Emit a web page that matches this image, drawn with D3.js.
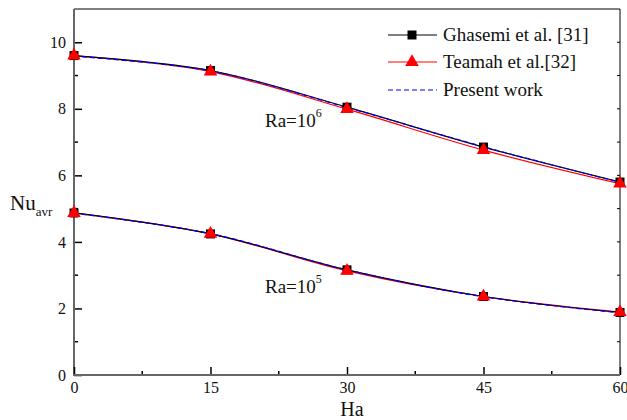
<!DOCTYPE html>
<html><head><meta charset="utf-8">
<script src="https://cdn.jsdelivr.net/npm/d3@7"></script>
<style>body{margin:0;background:#fff}svg{display:block}svg text{font-family:"Liberation Serif","Times New Roman",serif !important}</style>
</head><body><svg id="c" width="627" height="420"></svg>
<script>
const ha = [0, 15, 30, 45, 60];
const ghasemi6 = [9.60, 9.15, 8.05, 6.85, 5.80];
const teamah6 = [9.60, 9.12, 7.99, 6.76, 5.75];
const present6 = [9.58, 9.14, 8.04, 6.86, 5.79];
const ghasemi5 = [4.87, 4.24, 3.16, 2.36, 1.88];
const teamah5 = [4.87, 4.24, 3.13, 2.36, 1.89];
const present5 = [4.86, 4.25, 3.16, 2.35, 1.87];
const xTicks = [0, 15, 30, 45, 60];
const yTicks = [0, 2, 4, 6, 8, 10];
const legendLabels = ["Ghasemi et al. [31]", "Teamah et al.[32]", "Present work"];

const FONT = '"Liberation Serif","Times New Roman",serif';
const svg = d3.select("#c");
const L = 74, R = 620, T = 9, B = 375;
const x = d3.scaleLinear().domain([0, 60]).range([L, R]);
const y = d3.scaleLinear().domain([0, 11]).range([B, T]);

// frame top/right
svg.append("line").attr("x1", L).attr("x2", R).attr("y1", T).attr("y2", T).attr("stroke", "#000").attr("stroke-width", 1);
svg.append("line").attr("x1", R).attr("x2", R).attr("y1", T).attr("y2", B).attr("stroke", "#000").attr("stroke-width", 1);
d3.range(1, 11).forEach(v => {
  svg.append("line").attr("x1", R).attr("x2", R - 3).attr("y1", y(v)).attr("y2", y(v)).attr("stroke", "#000");
});

// left axis
const gy = svg.append("g").attr("transform", `translate(${L},0)`)
  .call(d3.axisLeft(y).tickValues(yTicks).tickSize(-8).tickPadding(8).tickFormat(d3.format("d")));
gy.attr("font-family", null);
gy.select(".domain").remove();
gy.selectAll(".tick line").attr("stroke", "#000").attr("stroke-width", 1.5);
gy.selectAll(".tick text").attr("font-size", 16).attr("fill", "#111").style("font-family", FONT);
d3.range(1, 11, 2).forEach(v => {
  svg.append("line").attr("x1", L).attr("x2", L + 4).attr("y1", y(v)).attr("y2", y(v)).attr("stroke", "#000").attr("stroke-width", 1.5);
});
svg.append("line").attr("x1", L).attr("x2", L).attr("y1", T).attr("y2", B + 1).attr("stroke", "#666").attr("stroke-width", 2);

// bottom axis
const gx = svg.append("g").attr("transform", `translate(0,${B})`)
  .call(d3.axisBottom(x).tickValues(xTicks).tickSize(-8).tickPadding(7).tickFormat(d3.format("d")));
gx.attr("font-family", null);
gx.select(".domain").remove();
gx.selectAll(".tick line").attr("stroke", "#000").attr("stroke-width", 1.5);
gx.selectAll(".tick text").attr("font-size", 16).attr("fill", "#111").style("font-family", FONT);
[7.5, 22.5, 37.5, 52.5].forEach(v => {
  svg.append("line").attr("x1", x(v)).attr("x2", x(v)).attr("y1", B).attr("y2", B - 4).attr("stroke", "#000").attr("stroke-width", 1.5);
});
svg.append("line").attr("x1", L - 1).attr("x2", R).attr("y1", B).attr("y2", B).attr("stroke", "#666").attr("stroke-width", 2);

// axis titles
const nu = svg.append("text").attr("x", 10).attr("y", 210).attr("font-size", 21).attr("fill", "#111").style("font-family", FONT);
nu.append("tspan").text("Nu");
nu.append("tspan").attr("font-size", 13).attr("dy", 6).text("avr");
svg.append("text").attr("x", 352).attr("y", 415.5).attr("text-anchor", "middle").attr("font-size", 20).attr("fill", "#111").style("font-family", FONT).text("Ha");

// lines
const line = d3.line().x((d, i) => x(ha[i])).y(d => y(d)).curve(d3.curveCatmullRom.alpha(0.5));
function series(vals, color, dash) {
  const p = svg.append("path").attr("d", line(vals)).attr("fill", "none").attr("stroke", color).attr("stroke-width", 1.2);
  if (dash) p.attr("stroke-dasharray", dash);
}
series(teamah6, "#ff0000"); series(teamah5, "#ff0000");
series(ghasemi6, "#000"); series(ghasemi5, "#000");
series(present6, "#0000ff", "5,3"); series(present5, "#0000ff", "5,3");

const sq = d3.symbol().type(d3.symbolSquare).size(81);
const tri = d3.symbol().type(d3.symbolTriangle).size(80);
[ghasemi6, ghasemi5].forEach(vals => vals.forEach((v, i) => {
  svg.append("path").attr("d", sq()).attr("transform", `translate(${x(ha[i])},${y(v)})`).attr("fill", "#000");
}));
[teamah6, teamah5].forEach(vals => vals.forEach((v, i) => {
  svg.append("path").attr("d", tri()).attr("transform", `translate(${x(ha[i])},${y(v)})`).attr("fill", "#ff0000");
}));

// Ra labels
function raLabel(xx, yy, exp) {
  const t = svg.append("text").attr("x", xx).attr("y", yy).attr("font-size", 19).attr("fill", "#111").style("font-family", FONT);
  t.append("tspan").text("Ra=10");
  t.append("tspan").attr("font-size", 12).attr("dy", -10).text(exp);
}
raLabel(265, 127, "6");
raLabel(265, 293, "5");

// legend
const ly = [35, 62, 90];
const lx1 = 388, lx2 = 437, lm = 412;
svg.append("line").attr("x1", lx1).attr("x2", lx2).attr("y1", ly[0]).attr("y2", ly[0]).attr("stroke", "#000").attr("stroke-width", 1.2);
svg.append("path").attr("d", sq()).attr("transform", `translate(${lm},${ly[0]})`).attr("fill", "#000");
svg.append("line").attr("x1", lx1).attr("x2", lx2).attr("y1", ly[1]).attr("y2", ly[1]).attr("stroke", "#ff0000").attr("stroke-width", 1.2);
svg.append("path").attr("d", tri()).attr("transform", `translate(${lm},${ly[1]})`).attr("fill", "#ff0000");
svg.append("line").attr("x1", lx1).attr("x2", lx2).attr("y1", ly[2]).attr("y2", ly[2]).attr("stroke", "#0000ff").attr("stroke-width", 1.2).attr("stroke-dasharray", "5,3");
legendLabels.forEach((t, i) => {
  svg.append("text").attr("x", 443).attr("y", ly[i] + 6).attr("font-size", 19).attr("fill", "#111").style("font-family", FONT).text(t);
});
</script></body></html>
